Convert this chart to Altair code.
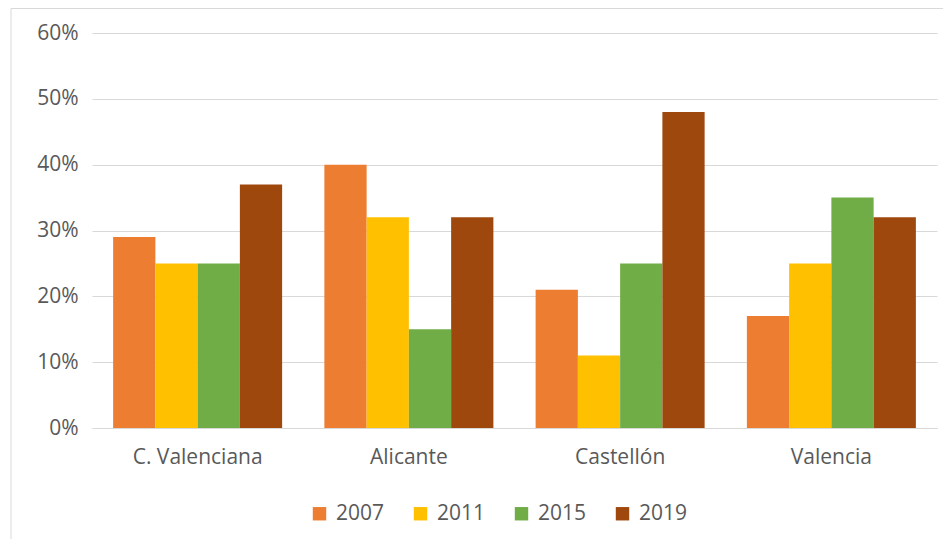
import altair as alt
import pandas as pd

categories = ["C. Valenciana", "Alicante", "Castellón", "Valencia"]
years = ["2007", "2011", "2015", "2019"]
v2007 = [0.29, 0.40, 0.21, 0.17]
v2011 = [0.25, 0.32, 0.11, 0.25]
v2015 = [0.25, 0.15, 0.25, 0.35]
v2019 = [0.37, 0.32, 0.48, 0.32]
colors = ["#ED7D31", "#FFC000", "#70AD47", "#9E480E"]

rows = []
for yr, vals in zip(years, [v2007, v2011, v2015, v2019]):
    for c, v in zip(categories, vals):
        rows.append({"cat": c, "year": yr, "value": v})
df = pd.DataFrame(rows)

FONT = "Open Sans"
GRAY = "#595959"
FS = 21

bars = alt.Chart(df).mark_bar().encode(
    x=alt.X("cat:N", sort=categories, title=None,
            scale=alt.Scale(paddingInner=0.2, paddingOuter=0.1),
            axis=alt.Axis(labelAngle=0, ticks=False, domainColor="#d9d9d9",
                          labelPadding=18, labelFontSize=FS, labelColor=GRAY,
                          labelFont=FONT, grid=False)),
    xOffset=alt.XOffset("year:N", sort=years, scale=alt.Scale(paddingInner=0, paddingOuter=0)),
    y=alt.Y("value:Q", title=None,
            scale=alt.Scale(domain=[0, 0.6], nice=False),
            axis=alt.Axis(format=".0%", values=[0, 0.1, 0.2, 0.3, 0.4, 0.5, 0.6],
                          domain=False, ticks=False, gridColor="#d9d9d9",
                          labelPadding=14, labelFontSize=FS, labelColor=GRAY,
                          labelFont=FONT)),
    color=alt.Color("year:N", sort=years,
                    scale=alt.Scale(domain=years, range=colors),
                    legend=alt.Legend(title=None, orient="none", direction="horizontal",
                                      legendX=217, legendY=470, symbolType="square",
                                      symbolSize=180, symbolStrokeWidth=0,
                                      labelFontSize=FS, labelColor=GRAY, labelFont=FONT,
                                      columnPadding=25, labelOffset=6)),
)

border_df = pd.DataFrame({"d": [0]})
border = alt.Chart(border_df).mark_rect(fill=None, stroke="#d9d9d9", strokeWidth=1).encode(
    x=alt.value(-81), x2=alt.value(880), y=alt.value(-24.5), y2=alt.value(560)
)

chart = alt.layer(border, bars).properties(
    width=845, height=395,
    padding={"left": 84, "top": 25, "right": 6, "bottom": 111},
    autosize=alt.AutoSizeParams(type="none"),
).configure_view(stroke=None)

chart.save("out.html", embed_options={"renderer": "svg", "actions": False})
